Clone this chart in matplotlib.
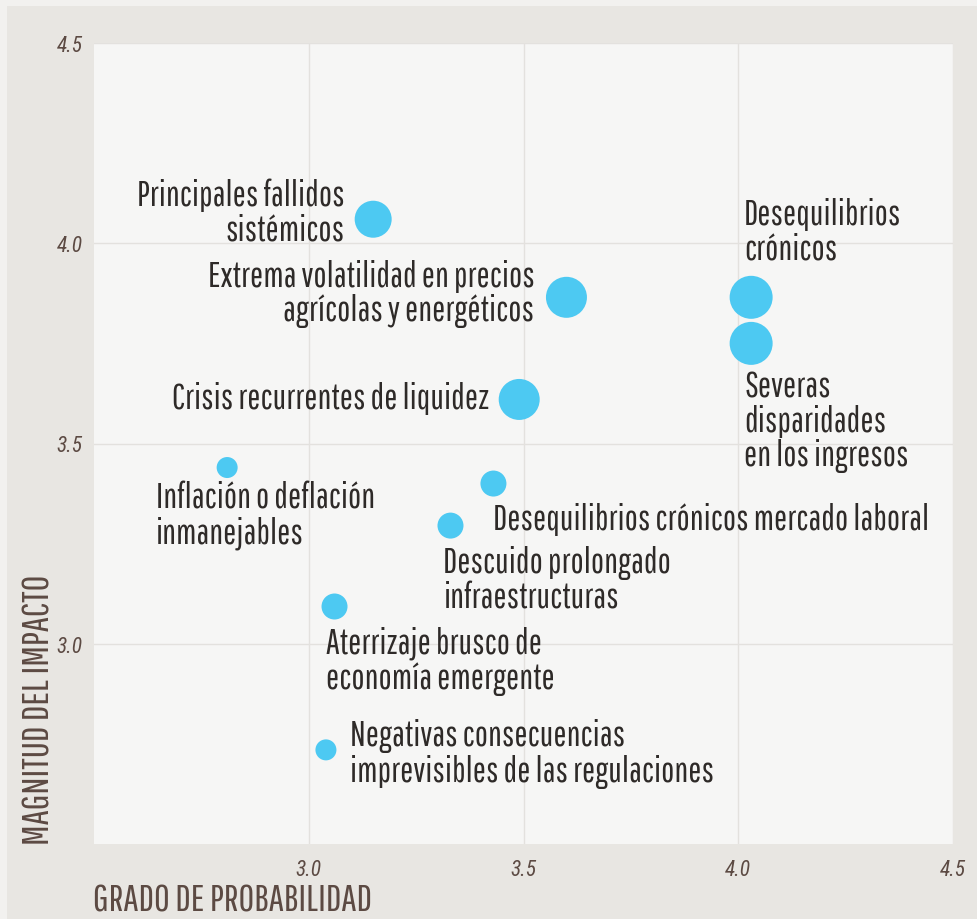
import matplotlib
matplotlib.use("Agg")
import matplotlib.pyplot as plt
from matplotlib.patches import Rectangle

# ---- data ----
riesgos = [
    "Principales fallidos\nsistémicos",
    "Extrema volatilidad en precios\nagrícolas y energéticos",
    "Desequilibrios\ncrónicos",
    "Severas\ndisparidades\nen los ingresos",
    "Crisis recurrentes de liquidez",
    "Inflación o deflación\ninmanejables",
    "Desequilibrios crónicos mercado laboral",
    "Descuido prolongado\ninfraestructuras",
    "Aterrizaje brusco de\neconomía emergente",
    "Negativas consecuencias\nimprevisibles de las regulaciones",
]
probabilidad = [3.15, 3.60, 4.03, 4.03, 3.49, 2.81, 3.43, 3.33, 3.06, 3.04]
impacto = [4.06, 3.865, 3.865, 3.75, 3.61, 3.44, 3.40, 3.295, 3.093, 2.735]
peso = [3.7, 4.1, 4.3, 4.3, 4.1, 2.1, 2.6, 2.6, 2.6, 2.1]
ticks = [3.0, 3.5, 4.0, 4.5]
tick_labels = ["3.0", "3.5", "4.0", "4.5"]

# ---- layout (label offsets in pixels to last-line baseline: dx, dy-down, alignment) ----
label_layout = [
    (-29, 20, "right"),
    (-32, 23, "right"),
    (-7, -39, "left"),
    (-7, 122, "left"),
    (-30, 9, "right"),
    (-71, 75, "left"),
    (0, 45, "left"),
    (-7, 82, "left"),
    (-9, 81, "left"),
    (24, 31, "left"),
]

FONT = ["Pathway Gothic One", "Roboto Condensed", "DejaVu Sans"]
TICKFONT = ["Roboto Condensed", "DejaVu Sans"]
W, H = 978, 920
DPI = 100
px = 72.0 / DPI

fig = plt.figure(figsize=(W / DPI, H / DPI), dpi=DPI)
fig.patch.set_facecolor("#e8e6e2")
fig.add_artist(Rectangle((0, 1 - 7 / H), 1, 7 / H, transform=fig.transFigure,
                         facecolor="#f2f1ef", edgecolor="none", zorder=0))
fig.add_artist(Rectangle((0, 0), 7 / W, 1, transform=fig.transFigure,
                         facecolor="#f2f1ef", edgecolor="none", zorder=0))

ax = fig.add_axes([94 / W, 1 - 845 / H, (953 - 94) / W, (845 - 44) / H])
ax.set_facecolor("#f6f6f5")
ax.set_xlim(2.5, 4.5)
ax.set_ylim(2.5, 4.5)
for s in ax.spines.values():
    s.set_visible(False)
ax.set_xticks(ticks)
ax.set_yticks(ticks)
ax.set_xticklabels(tick_labels)
ax.set_yticklabels(tick_labels)
ax.tick_params(length=0, labelsize=15.5, labelcolor="#5c4a43")
ax.tick_params(axis="x", pad=11)
ax.tick_params(axis="y", pad=8)
for lab in ax.get_xticklabels() + ax.get_yticklabels():
    lab.set_fontstyle("italic")
    lab.set_family(TICKFONT)
ax.grid(True, color="#e3e1de", linewidth=1.0)
ax.set_axisbelow(True)

sizes = [(p * 10 * px) ** 2 for p in peso]
ax.scatter(probabilidad, impacto, s=sizes, color="#4dc9f2", edgecolors="none", zorder=3)

for name, x, y, (dx, dy, ha) in zip(riesgos, probabilidad, impacto, label_layout):
    ax.annotate(name, (x, y), xytext=(dx * px, -dy * px), textcoords="offset points",
                ha=ha, va="baseline", multialignment=ha, fontsize=25,
                color="#2e2a28", family=FONT, linespacing=1.06, zorder=4)

fig.text(93 / W, 1 - 912 / H, "GRADO DE PROBABILIDAD", ha="left", va="baseline",
         fontsize=27.5, color="#5c4a43", family=FONT)
fig.text(21 / W, 1 - 845 / H, "MAGNITUD DEL IMPACTO", ha="left", va="bottom",
         rotation=90, fontsize=27.5, color="#5c4a43", family=FONT)

fig.savefig("out.png", dpi=DPI, facecolor=fig.get_facecolor())
